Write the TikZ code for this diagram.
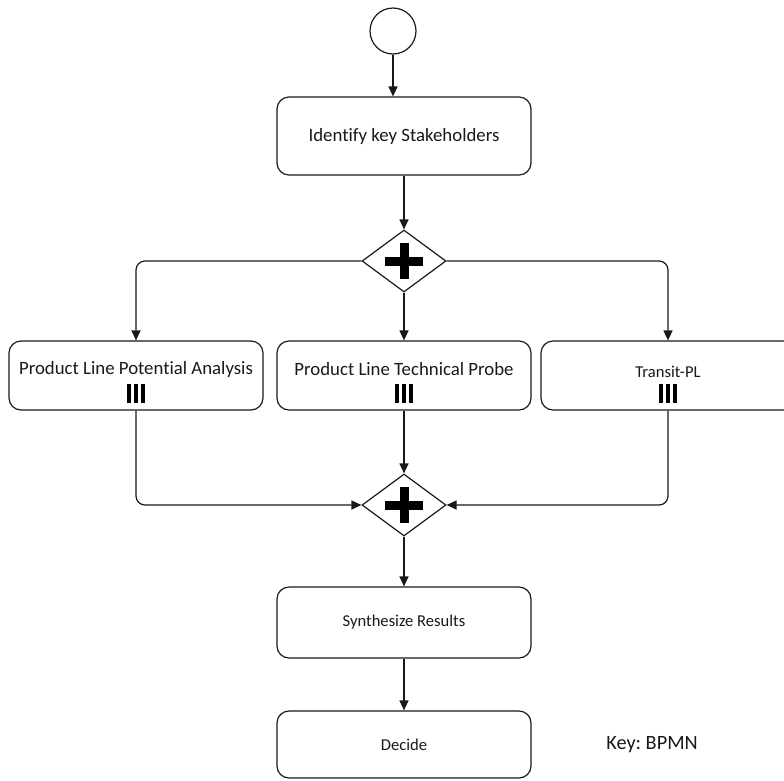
\documentclass[tikz,border=0pt]{standalone}
\usepackage{fontspec}
\setmainfont{Carlito}[Ligatures=NoCommon]
\usetikzlibrary{arrows.meta,shapes.geometric}

\begin{document}
\frenchspacing
\begin{tikzpicture}[x=1pt,y=-1pt,
  line/.style={draw=black!90, line width=1.2pt},
  flow/.style={line, -{Triangle[length=10pt,width=9pt]}},
  task/.style={line, rounded corners=12pt, minimum width=254pt, inner sep=0pt},
  gate/.style={line, diamond, minimum width=84pt, minimum height=62pt, inner sep=0pt},
  big/.style={font=\fontsize{18.8}{22}\selectfont, text=black!90},
  small/.style={font=\fontsize{16.6}{20}\selectfont, text=black!90},
  pics/mi/.style={code={\foreach \dx in {-7,0,7}{\fill[black] (\dx-2,0) rectangle (\dx+2,-19);}}}
]
\useasboundingbox[fill=white] (0,0) rectangle (784,780);

% start event
\node[line, circle, minimum size=46pt, inner sep=0pt] (start) at (393,31) {};

% tasks
\node[task, minimum height=78pt, big] (ident) at (404,136) {Identify key Stakeholders};
\node[task, minimum height=69pt] (pla) at (136,375.5) {};
\node[task, minimum height=69pt] (plt) at (404,375.5) {};
\node[task, minimum height=69pt] (tpl) at (668,375.5) {};
\node[task, minimum height=71pt, small] (synth) at (404,622.5) {Synthesize Results};
\node[task, minimum height=67pt, small] (decide) at (404,744.5) {Decide};

% task labels and multi-instance markers
\node[big] (plaT) at (136,369) {Product Line Potential Analysis};
\node[big] (pltT) at (404,369) {Product Line Technical Probe};
\node[small] (tplT) at (668,372) {Transit-PL};
\pic at ([yshift=8pt]pla.south) {mi};
\pic at ([yshift=8pt]plt.south) {mi};
\pic at ([yshift=8pt]tpl.south) {mi};

% parallel gateways
\node[gate] (g1) at (404,261) {};
\node[gate] (g2) at (404,505) {};
\foreach \g in {g1,g2}{
  \draw[line width=9pt] ([xshift=-19pt]\g.center) -- ([xshift=19pt]\g.center);
  \draw[line width=9pt] ([yshift=-18pt]\g.center) -- ([yshift=18pt]\g.center);
}

% sequence flows
\draw[flow] (start.south) -- (start.south |- ident.north);
\draw[flow] (ident) -- (g1);
\draw[flow, rounded corners=9pt] (g1.west) -| (pla.north);
\draw[flow] (g1) -- (plt);
\draw[flow, rounded corners=9pt] (g1.east) -| (tpl.north);
\draw[flow, rounded corners=9pt] (pla.south) |- (g2.west);
\draw[flow] (plt) -- (g2);
\draw[flow, rounded corners=9pt] (tpl.south) |- (g2.east);
\draw[flow] (g2) -- (synth);
\draw[flow] (synth) -- (decide);

% legend
\node[font=\fontsize{20.3}{24}\selectfont, text=black!90] (key) at (652,745) {Key: BPMN};
\end{tikzpicture}
\end{document}
